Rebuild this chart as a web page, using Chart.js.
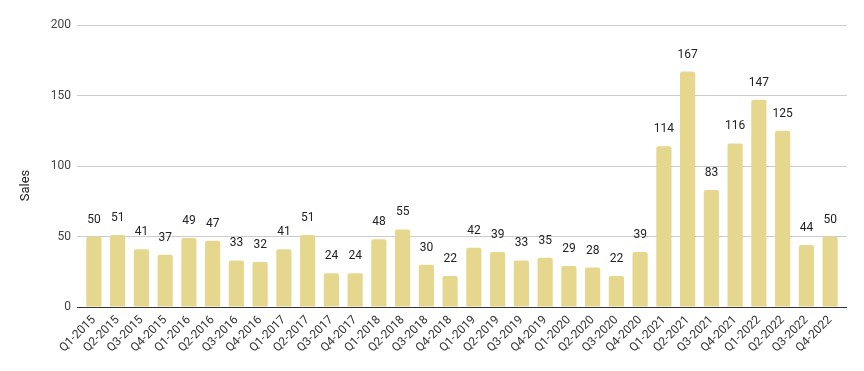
<!DOCTYPE html>
<html>
<head>
<meta charset="utf-8">
<script src="https://cdn.jsdelivr.net/npm/chart.js@4/dist/chart.umd.min.js"></script>
<style>
  html, body { margin: 0; padding: 0; background: #fff; }
  #wrap { width: 864px; height: 371px; }
</style>
</head>
<body>
<div id="wrap"><canvas id="salesChart"></canvas></div>
<script>
// quarterly sales
const quarters = [
  'Q1-2015','Q2-2015','Q3-2015','Q4-2015','Q1-2016','Q2-2016','Q3-2016','Q4-2016',
  'Q1-2017','Q2-2017','Q3-2017','Q4-2017','Q1-2018','Q2-2018','Q3-2018','Q4-2018',
  'Q1-2019','Q2-2019','Q3-2019','Q4-2019','Q1-2020','Q2-2020','Q3-2020','Q4-2020',
  'Q1-2021','Q2-2021','Q3-2021','Q4-2021','Q1-2022','Q2-2022','Q3-2022','Q4-2022'
];
const sales = [
  50, 51, 41, 37, 49, 47, 33, 32,
  41, 51, 24, 24, 48, 55, 30, 22,
  42, 39, 33, 35, 29, 28, 22, 39,
  114, 167, 83, 116, 147, 125, 44, 50
];
const yTicks = [0, 50, 100, 150, 200];
const yTitle = 'Sales';

const FONT = 'Roboto, Arial, sans-serif';

// zero line is dark, the rest light grey
const gridColor = ctx => (ctx.tick && ctx.tick.value === 0) ? '#333333' : '#cccccc';

// draws the value above each bar
const valueLabels = {
  id: 'valueLabels',
  afterDatasetsDraw(chart){
    const ctx = chart.ctx;
    const meta = chart.getDatasetMeta(0);
    ctx.save();
    ctx.font = '12px ' + FONT;
    ctx.fillStyle = '#222';
    ctx.textAlign = 'center';
    ctx.textBaseline = 'alphabetic';
    meta.data.forEach((bar, i) => {
      ctx.fillText(String(sales[i]), bar.x, bar.y - 14);
    });
    ctx.restore();
  }
};

// y axis title, centred on the whole canvas height like the original
const axisTitle = {
  id: 'axisTitle',
  afterDraw(chart){
    const ctx = chart.ctx;
    ctx.save();
    ctx.translate(26, chart.height / 2);
    ctx.rotate(-Math.PI / 2);
    ctx.font = '13px ' + FONT;
    ctx.fillStyle = '#222';
    ctx.textAlign = 'center';
    ctx.textBaseline = 'middle';
    ctx.fillText(yTitle, 0, 0);
    ctx.restore();
  }
};

new Chart(document.getElementById('salesChart').getContext('2d'), {
  type: 'bar',
  data: {
    labels: quarters,
    datasets: [{
      label: yTitle,
      data: sales,
      yAxisID: 'y',
      backgroundColor: '#e6d78f',
      borderRadius: { topLeft: 2, topRight: 2 },
      borderSkipped: 'bottom',
      categoryPercentage: 1,
      barPercentage: 0.64
    }]
  },
  options: {
    responsive: true,
    maintainAspectRatio: false,
    animation: false,
    layout: { padding: { top: 25, right: 17, left: 0, bottom: 0 } },
    plugins: { legend: { display: false }, tooltip: { enabled: false } },
    scales: {
      x: {
        grid: { display: false, drawTicks: false },
        border: { display: false },
        ticks: {
          font: { family: FONT, size: 12 },
          color: '#333',
          minRotation: 45,
          maxRotation: 45,
          padding: 6,
          autoSkip: false
        },
        afterFit(scale){ scale.height = 64; }
      },
      y: {
        position: 'left',
        min: 0,
        max: 200,
        afterBuildTicks(scale){ scale.ticks = yTicks.map(v => ({ value: v })); },
        grid: { color: gridColor, drawTicks: true, tickLength: 5 },
        border: { display: false },
        ticks: {
          font: { family: FONT, size: 12 },
          color: '#444',
          padding: 6
        },
        afterFit(scale){ scale.width = 82; }
      },
      yRight: {
        position: 'right',
        min: 0,
        max: 200,
        afterBuildTicks(scale){ scale.ticks = yTicks.map(v => ({ value: v })); },
        grid: { color: gridColor, drawOnChartArea: false, drawTicks: true, tickLength: 5 },
        border: { display: false },
        ticks: { display: false },
        afterFit(scale){ scale.width = 5; }
      }
    }
  },
  plugins: [valueLabels, axisTitle]
});
</script>
</body>
</html>
